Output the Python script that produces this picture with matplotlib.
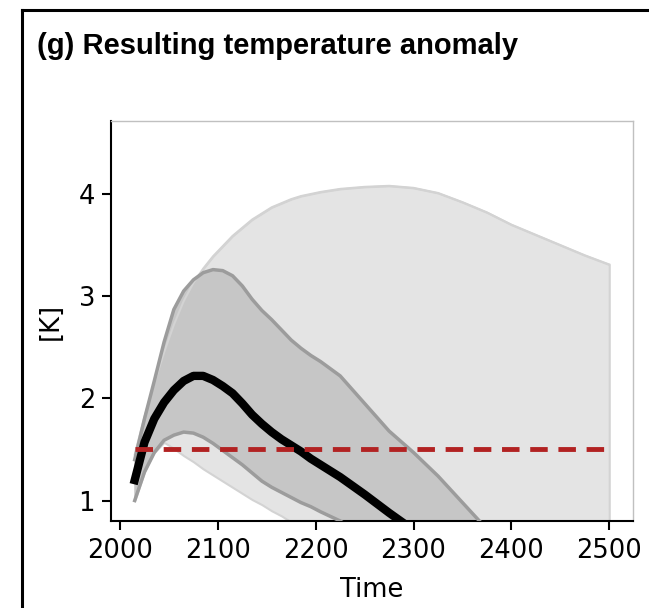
import matplotlib
matplotlib.use("Agg")
import matplotlib.pyplot as plt
from matplotlib.lines import Line2D

years = [2015, 2025, 2035, 2045, 2055, 2065, 2075, 2085, 2095, 2105, 2115, 2125,
         2135, 2145, 2155, 2165, 2175, 2185, 2195, 2205, 2225, 2250, 2275, 2300,
         2325, 2350, 2375, 2400, 2425, 2450, 2475, 2500]

# median temperature anomaly [K]
median = [1.20, 1.57, 1.80, 1.96, 2.08, 2.17, 2.22, 2.22, 2.18, 2.12, 2.05, 1.95,
          1.84, 1.75, 1.67, 1.60, 1.54, 1.48, 1.41, 1.35, 1.23, 1.06, 0.88, 0.71,
          0.55, 0.40, 0.27, 0.15, 0.05, -0.04, -0.12, -0.20]

# likely range (dark band)
likely_hi = [1.40, 1.80, 2.17, 2.55, 2.87, 3.05, 3.16, 3.23, 3.26, 3.25, 3.20, 3.10,
             2.97, 2.86, 2.77, 2.67, 2.57, 2.49, 2.42, 2.36, 2.22, 1.95, 1.68, 1.47,
             1.24, 0.98, 0.72, 0.45, 0.20, 0.00, -0.20, -0.40]
likely_lo = [1.00, 1.28, 1.47, 1.59, 1.64, 1.67, 1.66, 1.62, 1.56, 1.49, 1.42, 1.35,
             1.27, 1.19, 1.13, 1.08, 1.03, 0.98, 0.94, 0.89, 0.80, 0.65, 0.50, 0.35,
             0.20, 0.05, -0.08, -0.20, -0.30, -0.40, -0.45, -0.50]

# very likely range (light band)
vlikely_hi = [1.45, 1.82, 2.15, 2.45, 2.72, 2.95, 3.13, 3.27, 3.39, 3.49, 3.59, 3.67,
              3.75, 3.81, 3.87, 3.91, 3.95, 3.98, 4.00, 4.02, 4.05, 4.07, 4.08, 4.06,
              4.01, 3.92, 3.82, 3.70, 3.60, 3.50, 3.40, 3.31]
vlikely_lo = [1.00, 1.28, 1.47, 1.57, 1.51, 1.44, 1.38, 1.31, 1.25, 1.19, 1.13, 1.07,
              1.01, 0.96, 0.90, 0.85, 0.79, 0.74, 0.68, 0.63, 0.52, 0.40, 0.28, 0.15,
              0.02, -0.10, -0.22, -0.35, -0.45, -0.55, -0.65, -0.75]

target = 1.5
target_years = [2015, 2500]

fig = plt.figure(figsize=(6.49, 6.08), dpi=100)
ax = fig.add_axes([0.171, 0.1431, 0.8043, 0.658])

ax.fill_between(years, vlikely_lo, vlikely_hi, facecolor="#e4e4e4",
                edgecolor="#d3d3d3", linewidth=1.5, zorder=1)
ax.fill_between(years, likely_lo, likely_hi, facecolor="#c6c6c6",
                edgecolor="none", zorder=2)
ax.plot(years, vlikely_hi, color="#d3d3d3", lw=1.5, zorder=3)
ax.plot(years, likely_hi, color="#9c9c9c", lw=2.5, zorder=3)
ax.plot(years, likely_lo, color="#9c9c9c", lw=2.5, zorder=3)
ax.plot(years, median, color="black", lw=6, zorder=4)
ax.plot(target_years, [target, target], color="#b22222", lw=3.5,
        dashes=(3.6, 2.2), zorder=5)

ax.set_xlim(1990.75, 2524.25)
ax.set_ylim(0.80, 4.715)
ax.set_xticks([2000, 2100, 2200, 2300, 2400, 2500])
ax.set_yticks([1, 2, 3, 4])
ax.tick_params(labelsize=18.5, length=6.5, width=1.5, pad=5)
ax.tick_params(axis="x", pad=6)
ax.set_xlabel("Time", fontsize=18.5, labelpad=9)
ax.set_ylabel("[K]", fontsize=18.5, labelpad=11)

for side in ["left", "bottom"]:
    ax.spines[side].set_linewidth(1.5)
for side in ["top", "right"]:
    ax.spines[side].set_color("#c0c0c0")
    ax.spines[side].set_linewidth(1.0)

fig.text(37 / 649, 1 - 54 / 608, "(g) Resulting temperature anomaly",
         fontsize=21, fontweight="bold", family="Liberation Sans",
         ha="left", va="baseline")

# panel frame (only top and left edges fall inside the image)
fig.add_artist(Line2D([22 / 649, 1.0], [1 - 10 / 608, 1 - 10 / 608],
                      color="black", lw=2.2, transform=fig.transFigure))
fig.add_artist(Line2D([22 / 649, 22 / 649], [1 - 10 / 608, 0.0],
                      color="black", lw=2.2, transform=fig.transFigure))

fig.savefig("out.png", dpi=100)
